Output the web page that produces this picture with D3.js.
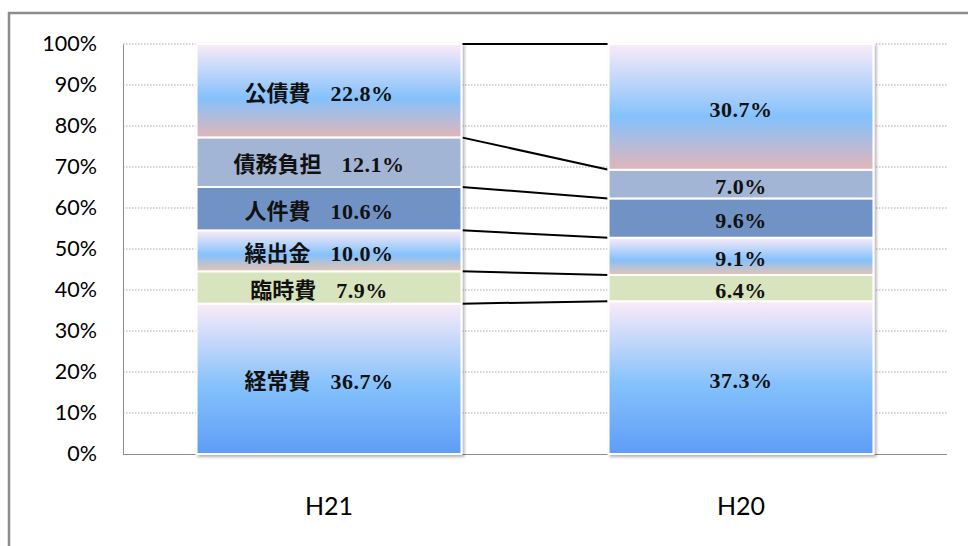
<!DOCTYPE html>
<html>
<head>
<meta charset="utf-8">
<script src="https://cdn.jsdelivr.net/npm/d3@7"></script>
<style>
  body { margin: 0; background: #fff; }
  svg { display: block; }
</style>
</head>
<body>
<svg id="chart" width="968" height="546"></svg>
<script>
// data, bottom segment first
let categories = ["H21", "H20"];
let seriesNames = ["経常費", "臨時費", "繰出金", "人件費", "債務負担", "公債費"];
let valuesH21 = [36.7, 7.9, 10.0, 10.6, 12.1, 22.8];
let valuesH20 = [37.3, 6.4, 9.1, 9.6, 7.0, 30.7];
let yTicks = [0, 0.1, 0.2, 0.3, 0.4, 0.5, 0.6, 0.7, 0.8, 0.9, 1];

let svg = d3.select("#chart");

// outer frame of the chart area
svg.append("rect")
    .attr("x", 9).attr("y", 13)
    .attr("width", 980).attr("height", 560)
    .attr("fill", "none")
    .attr("stroke", "#8c8c8c")
    .attr("stroke-width", 2.5);

let plotLeft = 123, plotRight = 947, plotTop = 44, plotBottom = 454;

let rows = categories.map(function (c, i) {
    let row = { cat: c };
    let vals = i === 0 ? valuesH21 : valuesH20;
    seriesNames.forEach(function (s, j) { row[s] = vals[j]; });
    return row;
});

let stacked = d3.stack()
    .keys(seriesNames)
    .offset(d3.stackOffsetExpand)(rows);

let x = d3.scaleBand()
    .domain(categories)
    .range([plotLeft, plotRight])
    .paddingInner(0.357)
    .paddingOuter(0.1785);

let y = d3.scaleLinear().domain([0, 1]).range([plotBottom, plotTop]);

// gradients and shadow
let defs = svg.append("defs");
function addGradient(id, stops) {
    let g = defs.append("linearGradient")
        .attr("id", id)
        .attr("x1", 0).attr("y1", 0).attr("x2", 0).attr("y2", 1);
    stops.forEach(function (s) {
        g.append("stop").attr("offset", s[0]).attr("stop-color", s[1]);
    });
}
addGradient("gKeijo", [["0%", "#fbebf8"], ["55%", "#84c1fc"], ["100%", "#5f9cf6"]]);
addGradient("gKuri", [["0%", "#fbebf8"], ["60%", "#84c1fc"], ["100%", "#e9c3ae"]]);
addGradient("gKosai", [["0%", "#fbebf8"], ["58%", "#84c1fc"], ["100%", "#e2b5b8"]]);

let shadow = defs.append("filter").attr("id", "shadow")
    .attr("x", "-5%").attr("y", "-5%").attr("width", "115%").attr("height", "115%");
shadow.append("feDropShadow")
    .attr("dx", 2).attr("dy", 2).attr("stdDeviation", 1.5)
    .attr("flood-color", "#000").attr("flood-opacity", 0.3);

let fills = {
    "経常費": "url(#gKeijo)",
    "臨時費": "#d8e4bd",
    "繰出金": "url(#gKuri)",
    "人件費": "#7092c4",
    "債務負担": "#a3b5d4",
    "公債費": "url(#gKosai)"
};

// gridlines
svg.append("g")
    .selectAll("line")
    .data(yTicks.slice(1))
    .enter().append("line")
    .attr("x1", plotLeft).attr("x2", plotRight)
    .attr("y1", function (d) { return y(d); })
    .attr("y2", function (d) { return y(d); })
    .attr("stroke", "#a6a6a6")
    .attr("stroke-width", 1)
    .attr("stroke-dasharray", "1.5,1.5");

// y axis
let yAxis = svg.append("g")
    .attr("transform", "translate(" + plotLeft + ",0)")
    .call(d3.axisLeft(y).tickValues(yTicks).tickFormat(d3.format(".0%")).tickSize(0).tickPadding(26));
yAxis.select(".domain").attr("stroke", "#8c8c8c");
yAxis.selectAll("text")
    .attr("font-family", "Lato, 'Open Sans', sans-serif")
    .attr("font-size", "21.5px")
    .attr("fill", "#000");

// x axis
let xAxis = svg.append("g")
    .attr("transform", "translate(0," + plotBottom + ")")
    .call(d3.axisBottom(x).tickSize(0).tickPadding(43));
xAxis.select(".domain").attr("stroke", "#8c8c8c").attr("d", "M" + plotLeft + ",0.5H" + plotRight);
xAxis.selectAll("text")
    .attr("font-family", "Lato, 'Open Sans', sans-serif")
    .attr("font-size", "25px")
    .attr("fill", "#000");

// series lines between the bars
let x0 = x("H21") + x.bandwidth(), x1 = x("H20");
svg.append("g")
    .selectAll("line")
    .data(stacked)
    .enter().append("line")
    .attr("x1", x0).attr("x2", x1)
    .attr("y1", function (s) { return y(s[0][1]); })
    .attr("y2", function (s) { return y(s[1][1]); })
    .attr("stroke", "#000")
    .attr("stroke-width", 2);

// bars
let layers = svg.append("g").attr("filter", "url(#shadow)")
    .selectAll("g")
    .data(stacked)
    .enter().append("g")
    .attr("fill", function (s) { return fills[s.key]; });

layers.selectAll("rect")
    .data(function (s) { return s; })
    .enter().append("rect")
    .attr("x", function (d) { return x(d.data.cat); })
    .attr("y", function (d) { return y(d[1]); })
    .attr("width", x.bandwidth())
    .attr("height", function (d) { return y(d[0]) - y(d[1]); })
    .attr("stroke", "#fff")
    .attr("stroke-width", 2);

// labels
let labelData = [];
stacked.forEach(function (s) {
    s.forEach(function (d) {
        labelData.push({ key: s.key, cat: d.data.cat, mid: (d[0] + d[1]) / 2, v: d.data[s.key] });
    });
});

let labels = svg.append("g")
    .selectAll("text")
    .data(labelData)
    .enter().append("text")
    .attr("x", function (d) { return x(d.cat) + x.bandwidth() / 2 - (d.cat === "H21" ? 10 : 0); })
    .attr("y", function (d) { return y(d.mid) + 10; })
    .attr("text-anchor", "middle")
    .attr("font-family", "'Liberation Serif', 'Noto Sans CJK JP', serif")
    .attr("font-weight", "bold")
    .attr("font-size", "22px")
    .attr("fill", "#111");

labels.filter(function (d) { return d.cat === "H21"; })
    .append("tspan")
    .text(function (d) { return d.key; });

labels.append("tspan")
    .attr("dx", function (d) { return d.cat === "H21" ? 20 : 0; })
    .attr("letter-spacing", "0.5px")
    .text(function (d) { return d3.format(".1f")(d.v) + "%"; });
</script>
</body>
</html>
